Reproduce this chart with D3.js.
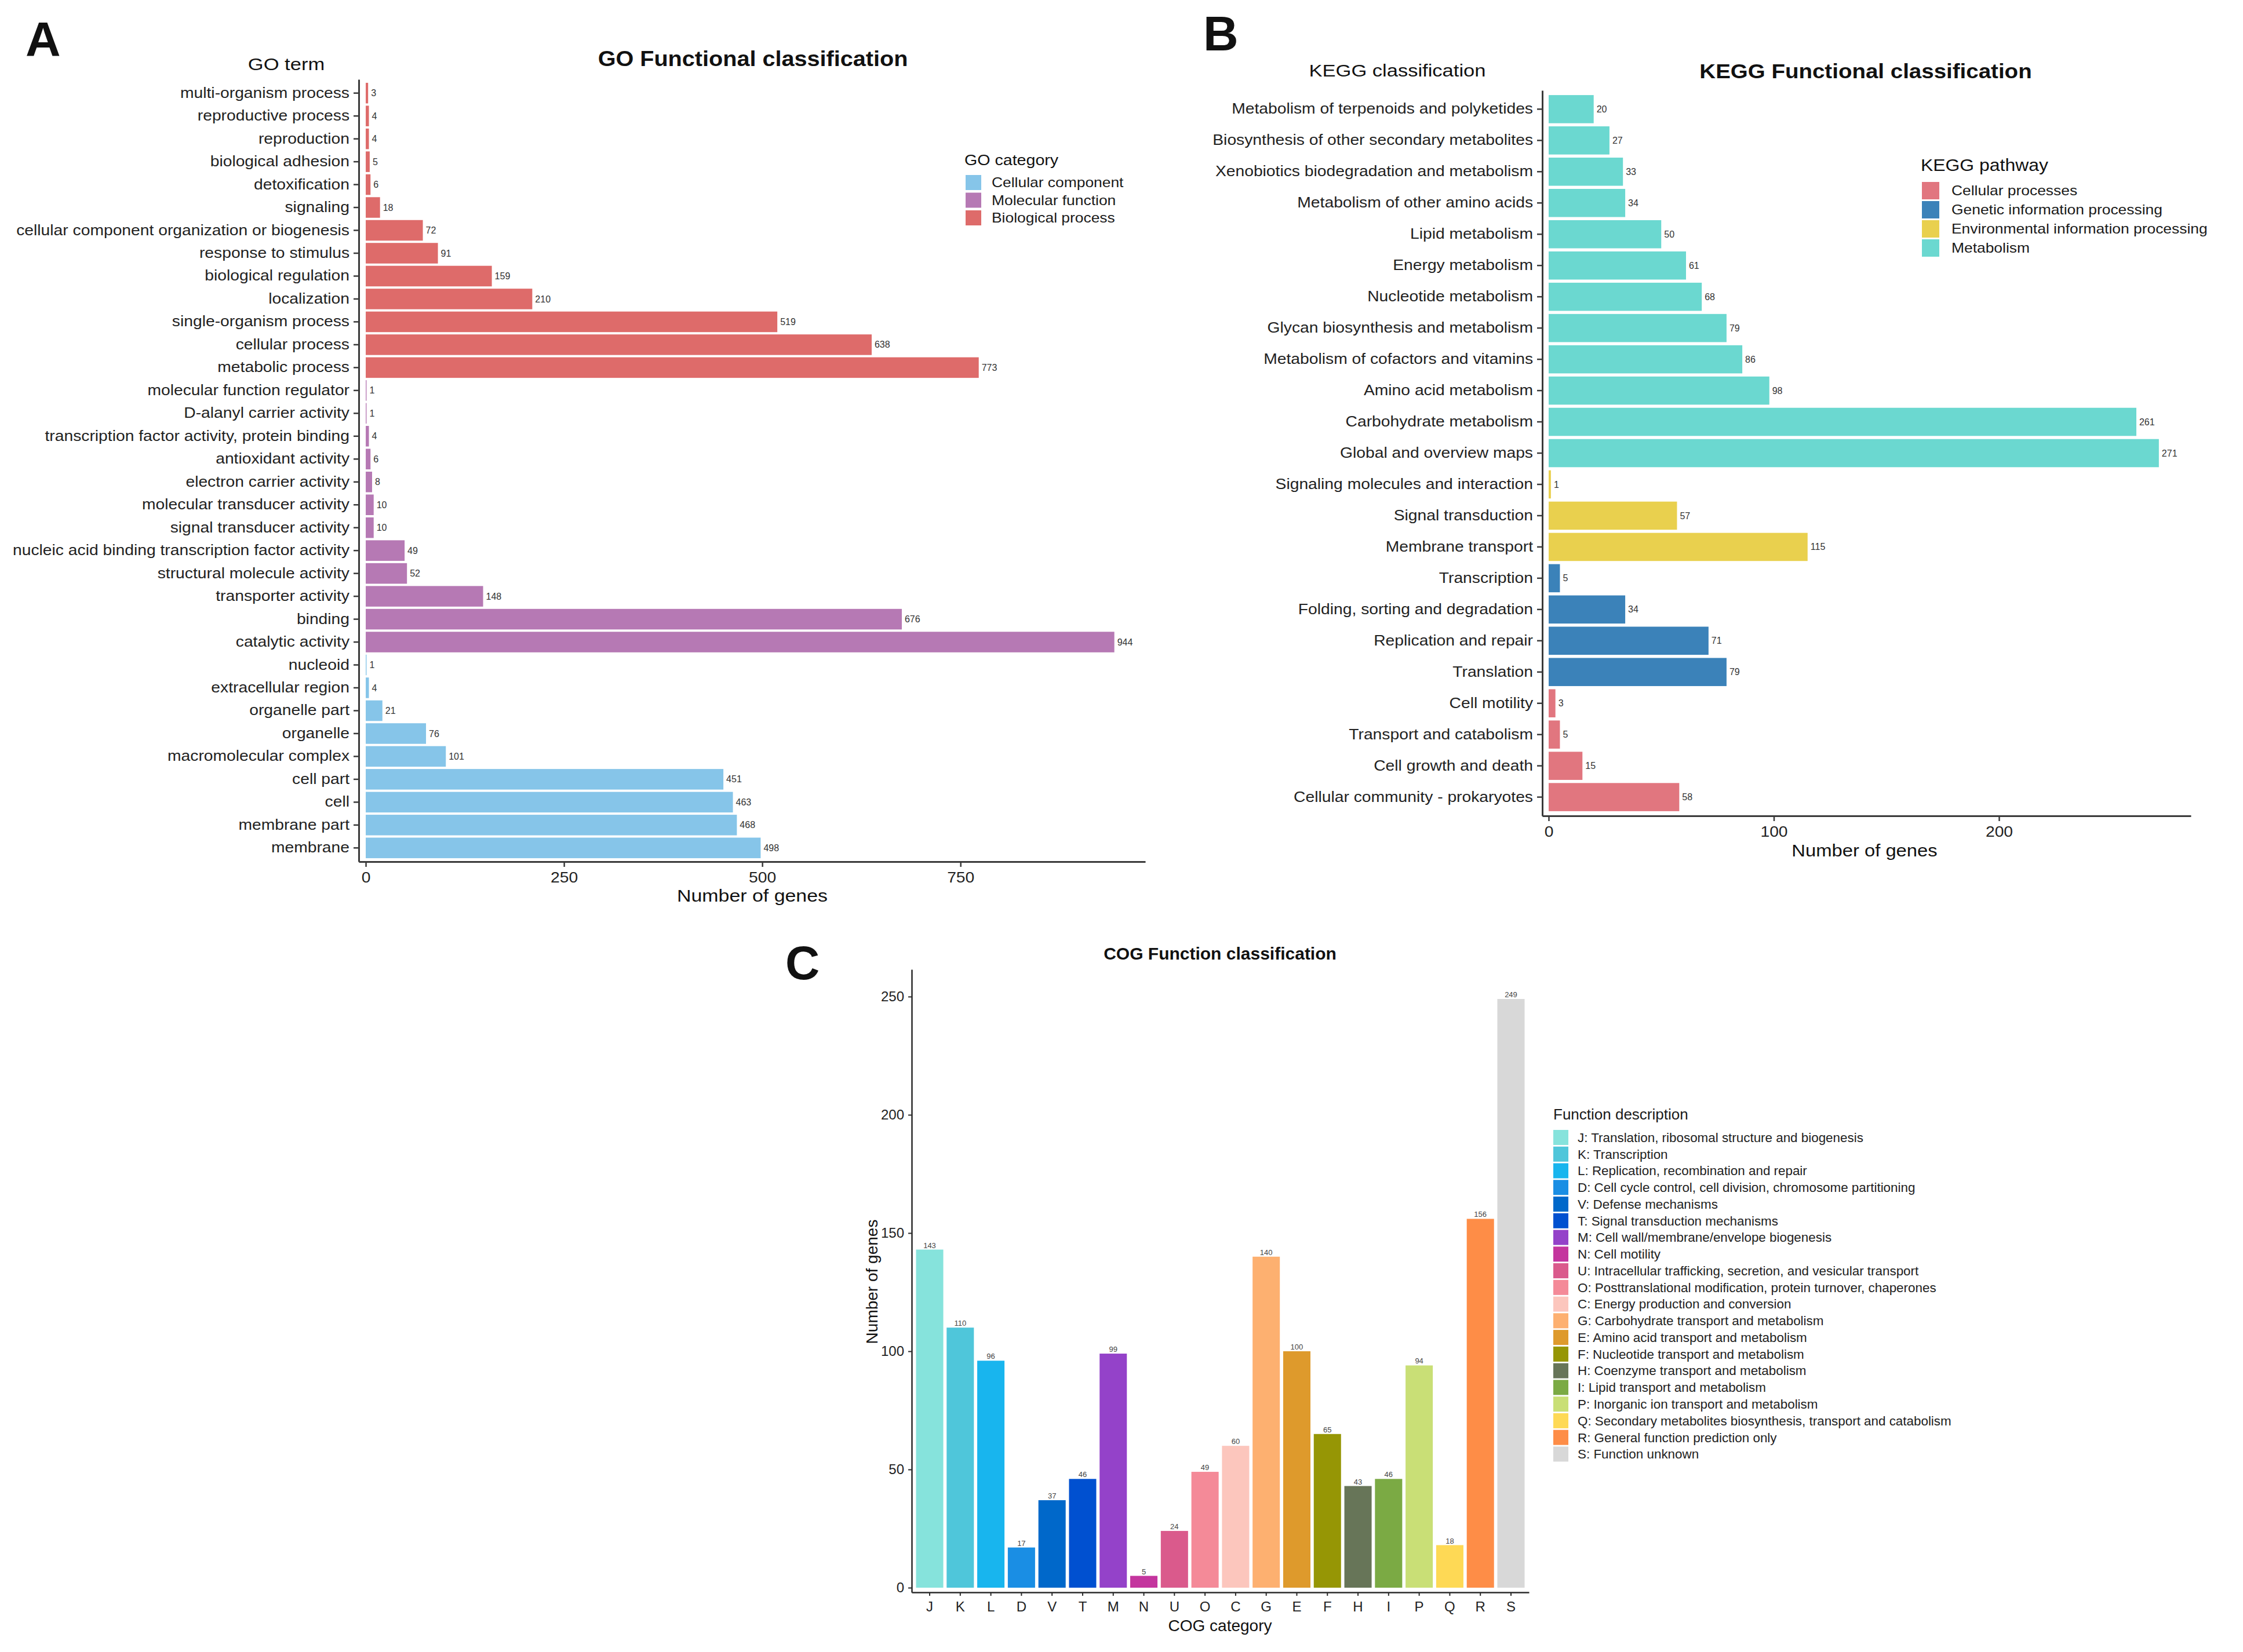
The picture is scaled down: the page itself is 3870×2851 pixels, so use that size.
<!DOCTYPE html>
<html><head><meta charset="utf-8">
<script src="https://cdn.jsdelivr.net/npm/d3@7"></script>
<style>
body{margin:0;background:#fff}
text{font-family:"Liberation Sans",Arial,Helvetica,sans-serif}
</style>
</head><body>
<svg id="c" width="3870" height="2851"></svg>
<script>
// ---------------- DATA ----------------
const goTerms = [
  "multi-organism process","reproductive process","reproduction","biological adhesion","detoxification","signaling",
  "cellular component organization or biogenesis","response to stimulus","biological regulation","localization",
  "single-organism process","cellular process","metabolic process",
  "molecular function regulator","D-alanyl carrier activity","transcription factor activity, protein binding",
  "antioxidant activity","electron carrier activity","molecular transducer activity","signal transducer activity",
  "nucleic acid binding transcription factor activity","structural molecule activity","transporter activity",
  "binding","catalytic activity",
  "nucleoid","extracellular region","organelle part","organelle","macromolecular complex","cell part","cell",
  "membrane part","membrane"
];
const goValues = [3,4,4,5,6,18,72,91,159,210,519,638,773, 1,1,4,6,8,10,10,49,52,148,676,944, 1,4,21,76,101,451,463,468,498];
const goGroups = [
  "Biological process","Biological process","Biological process","Biological process","Biological process","Biological process",
  "Biological process","Biological process","Biological process","Biological process","Biological process","Biological process","Biological process",
  "Molecular function","Molecular function","Molecular function","Molecular function","Molecular function","Molecular function",
  "Molecular function","Molecular function","Molecular function","Molecular function","Molecular function","Molecular function",
  "Cellular component","Cellular component","Cellular component","Cellular component","Cellular component","Cellular component",
  "Cellular component","Cellular component","Cellular component"
];
const goCategories = ["Cellular component","Molecular function","Biological process"];
const goColors = ["#86C5E9","#B679B4","#DE6B6A"];
const goTicks = [0,250,500,750];

const keggTerms = [
  "Metabolism of terpenoids and polyketides","Biosynthesis of other secondary metabolites",
  "Xenobiotics biodegradation and metabolism","Metabolism of other amino acids","Lipid metabolism",
  "Energy metabolism","Nucleotide metabolism","Glycan biosynthesis and metabolism",
  "Metabolism of cofactors and vitamins","Amino acid metabolism","Carbohydrate metabolism","Global and overview maps",
  "Signaling molecules and interaction","Signal transduction","Membrane transport",
  "Transcription","Folding, sorting and degradation","Replication and repair","Translation",
  "Cell motility","Transport and catabolism","Cell growth and death","Cellular community - prokaryotes"
];
const keggValues = [20,27,33,34,50,61,68,79,86,98,261,271, 1,57,115, 5,34,71,79, 3,5,15,58];
const keggGroups = [
  "Metabolism","Metabolism","Metabolism","Metabolism","Metabolism","Metabolism","Metabolism","Metabolism",
  "Metabolism","Metabolism","Metabolism","Metabolism",
  "Environmental information processing","Environmental information processing","Environmental information processing",
  "Genetic information processing","Genetic information processing","Genetic information processing","Genetic information processing",
  "Cellular processes","Cellular processes","Cellular processes","Cellular processes"
];
const keggPathways = ["Cellular processes","Genetic information processing","Environmental information processing","Metabolism"];
const keggColors = ["#E1767F","#3B82B9","#E9D04E","#6BD8D0"];
const keggTicks = [0,100,200];

const cogCategories = ["J","K","L","D","V","T","M","N","U","O","C","G","E","F","H","I","P","Q","R","S"];
const cogValues = [143,110,96,17,37,46,99,5,24,49,60,140,100,65,43,46,94,18,156,249];
const cogDescriptions = [
  "J: Translation, ribosomal structure and biogenesis",
  "K: Transcription",
  "L: Replication, recombination and repair",
  "D: Cell cycle control, cell division, chromosome partitioning",
  "V: Defense mechanisms",
  "T: Signal transduction mechanisms",
  "M: Cell wall/membrane/envelope biogenesis",
  "N: Cell motility",
  "U: Intracellular trafficking, secretion, and vesicular transport",
  "O: Posttranslational modification, protein turnover, chaperones",
  "C: Energy production and conversion",
  "G: Carbohydrate transport and metabolism",
  "E: Amino acid transport and metabolism",
  "F: Nucleotide transport and metabolism",
  "H: Coenzyme transport and metabolism",
  "I: Lipid transport and metabolism",
  "P: Inorganic ion transport and metabolism",
  "Q: Secondary metabolites biosynthesis, transport and catabolism",
  "R: General function prediction only",
  "S: Function unknown"
];
const cogColors = ["#86E3DC","#4FC6DA","#18B5EE","#1A8EE4","#0068CA","#0050D0","#9442C9","#C4359E","#DA5A8C","#F48A98",
  "#FCC6BD","#FDB070","#DE9A2C","#969605","#677558","#7BAA44","#C9DF76","#FED955","#FE8D47","#D8D8D8"];
const cogTicks = [0,50,100,150,200,250];

// ---------------- HELPERS ----------------
const svg = d3.select("#c");
svg.append("rect").attr("width",3870).attr("height",2851).attr("fill","#fff");

function stretch(sel, k){
  sel.each(function(){
    const w = this.getComputedTextLength();
    if (w > 0) { this.setAttribute("textLength", w*k); this.setAttribute("lengthAdjust","spacingAndGlyphs"); }
  });
}
function label(x, y, txt, size, opts={}){
  const t = svg.append("text").attr("x",x).attr("y",y).text(txt)
    .attr("font-size",size).attr("fill",opts.fill||"#111")
    .attr("font-weight",opts.bold?"bold":"normal")
    .attr("text-anchor",opts.anchor||"start")
    .attr("dy",opts.dy==null?"0.35em":opts.dy);
  if (opts.rotate) t.attr("transform",`rotate(${opts.rotate},${x},${y})`);
  if (opts.k) stretch(t, opts.k);
  return t;
}

// horizontal bar panel
function hbar(cfg){
  const g = svg.append("g");
  const y = d3.scaleBand().domain(cfg.terms).range([cfg.top, cfg.bottom]).paddingInner(0.1).paddingOuter(0.15);
  const x = d3.scaleLinear().domain(cfg.xdom).range([cfg.left, cfg.right]);
  const color = d3.scaleOrdinal().domain(cfg.groupNames).range(cfg.colors);
  const data = cfg.terms.map((t,i)=>({t, v:cfg.values[i], g:cfg.groups[i]}));
  g.selectAll("rect.bar").data(data).join("rect").attr("class","bar")
    .attr("x", x(0)).attr("y", d=>y(d.t)).attr("height", y.bandwidth())
    .attr("width", d=>Math.max(0.8, x(d.v)-x(0))).attr("fill", d=>color(d.g));
  g.selectAll("text.val").data(data).join("text").attr("class","val")
    .attr("x", d=>x(d.v)+5).attr("y", d=>y(d.t)+y.bandwidth()/2).attr("dy","0.35em")
    .attr("font-size",16).attr("fill","#333").text(d=>d.v);
  const ya = g.append("g").attr("transform",`translate(${cfg.left},0)`)
    .call(d3.axisLeft(y).tickSize(9).tickSizeOuter(0).tickPadding(7));
  const xa = g.append("g").attr("transform",`translate(0,${cfg.bottom})`)
    .call(d3.axisBottom(x).tickValues(cfg.ticks).tickSize(9).tickSizeOuter(0).tickPadding(9));
  [ya,xa].forEach(a=>{
    a.select(".domain").attr("stroke","#3a3a3a").attr("stroke-width",3);
    a.selectAll(".tick line").attr("stroke","#3a3a3a").attr("stroke-width",2.5);
    a.selectAll(".tick text").attr("font-size",25).attr("fill","#222")
      .attr("font-family",'"Liberation Sans",Arial,sans-serif');
    stretch(a.selectAll(".tick text"), 1.13);
  });
  // legend
  label(cfg.legX, cfg.legTitleY, cfg.legTitle, cfg.legTitleSize, {k:1.1});
  cfg.groupNames.forEach((n,i)=>{
    const cy = cfg.legY0 + i*cfg.legStep;
    g.append("rect").attr("x",cfg.legX+2).attr("y",cy-cfg.keyH/2).attr("width",cfg.keyW).attr("height",cfg.keyH).attr("fill",cfg.colors[i]);
    label(cfg.legLabelX, cy, n, 24, {fill:"#1a1a1a", k:1.1});
  });
}

// ---------------- PANEL A: GO ----------------
hbar({terms:goTerms, values:goValues, groups:goGroups, groupNames:goCategories, colors:goColors, ticks:goTicks,
  top:137, bottom:1487, left:619, right:1976, xdom:[-8.8, 983],
  legX:1664, legTitle:"GO category", legTitleY:276, legTitleSize:26, legY0:315, legStep:30.5, keyW:27, keyH:26, legLabelX:1711});
label(44, 97, "A", 84, {bold:true, dy:0, fill:"#111"});
label(494, 110, "GO term", 30, {anchor:"middle", k:1.15});
label(1299, 101, "GO Functional classification", 36, {anchor:"middle", bold:true, k:1.1});
label(1298, 1545, "Number of genes", 30, {anchor:"middle", k:1.13});

// ---------------- PANEL B: KEGG ----------------
hbar({terms:keggTerms, values:keggValues, groups:keggGroups, groupNames:keggPathways, colors:keggColors, ticks:keggTicks,
  top:156, bottom:1408, left:2661, right:3780, xdom:[-2.83, 285.2],
  legX:3314, legTitle:"KEGG pathway", legTitleY:285, legTitleSize:29, legY0:329, legStep:33, keyW:30, keyH:30, legLabelX:3367});
label(2076, 87, "B", 84, {bold:true, dy:0, fill:"#111"});
label(2411, 121, "KEGG classification", 30, {anchor:"middle", k:1.15});
label(3219, 123, "KEGG Functional classification", 35, {anchor:"middle", bold:true, k:1.1});
label(3217, 1468, "Number of genes", 29, {anchor:"middle", k:1.13});

// ---------------- PANEL C: COG ----------------
(function(){
  const g = svg.append("g");
  const x = d3.scaleBand().domain(cogCategories).range([1573, 2638]).paddingInner(0.109).paddingOuter(0.142);
  const y = d3.scaleLinear().domain([-1.96, 261.5]).range([2748, 1673]);
  const data = cogCategories.map((c,i)=>({c, v:cogValues[i], col:cogColors[i]}));
  g.selectAll("rect").data(data).join("rect")
    .attr("x", d=>x(d.c)).attr("width", x.bandwidth())
    .attr("y", d=>y(d.v)).attr("height", d=>y(0)-y(d.v)).attr("fill", d=>d.col);
  g.selectAll("text.val").data(data).join("text").attr("class","val")
    .attr("x", d=>x(d.c)+x.bandwidth()/2).attr("y", d=>y(d.v)-3).attr("text-anchor","middle")
    .attr("font-size",13).attr("fill","#444").text(d=>d.v);
  const ya = g.append("g").attr("transform","translate(1573,0)")
    .call(d3.axisLeft(y).tickValues(cogTicks).tickSize(6).tickSizeOuter(0).tickPadding(7));
  const xa = g.append("g").attr("transform","translate(0,2748)")
    .call(d3.axisBottom(x).tickSize(6).tickSizeOuter(0).tickPadding(10));
  [ya,xa].forEach(a=>{
    a.select(".domain").attr("stroke","#2a2a2a").attr("stroke-width",2.5);
    a.selectAll(".tick line").attr("stroke","#2a2a2a").attr("stroke-width",2);
    a.selectAll(".tick text").attr("font-size",24).attr("fill","#222")
      .attr("font-family",'"Liberation Sans",Arial,sans-serif');
  });
  // legend
  label(2680, 1923, "Function description", 26, {fill:"#1a1a1a"});
  cogDescriptions.forEach((d,i)=>{
    const cy = 1963 + i*28.76;
    g.append("rect").attr("x",2680).attr("y",cy-13).attr("width",26).attr("height",26).attr("fill",cogColors[i]);
    label(2722, cy, d, 22.4, {fill:"#222"});
  });
})();
label(1355, 1690, "C", 82, {bold:true, dy:0, fill:"#111"});
label(2105, 1645, "COG Function classification", 30, {anchor:"middle", bold:true});
label(1504, 2212, "Number of genes", 28, {anchor:"middle", rotate:-90});
label(2105, 2805, "COG category", 28, {anchor:"middle"});
</script>
</body></html>
